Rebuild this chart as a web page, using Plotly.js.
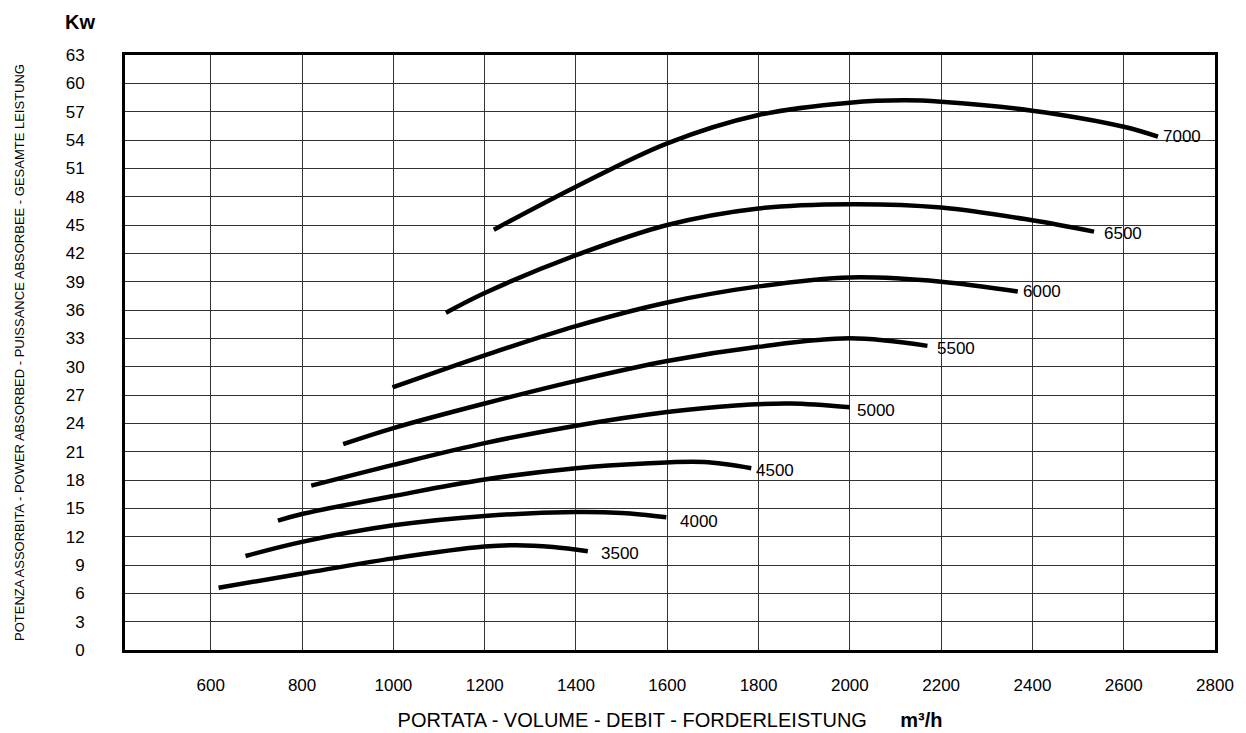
<!DOCTYPE html>
<html>
<head>
<meta charset="utf-8">
<script src="https://cdn.plot.ly/plotly-3.0.1.min.js"></script>
<style>html,body{margin:0;padding:0;background:#fff;}#chart{width:1246px;height:733px;}</style>
</head>
<body>
<div id="chart"></div>
<script>
// Series: flow (m3/h) vs absorbed power (kW), labelled by speed (rpm)
const speeds = ["3500", "4000", "4500", "5000", "5500", "6000", "6500", "7000"];

const x3500 = [617, 800, 1000, 1200, 1270, 1350, 1426];
const y3500 = [6.6, 8.1, 9.7, 10.95, 11.1, 10.9, 10.45];

const x4000 = [676, 800, 1000, 1200, 1400, 1500, 1598];
const y4000 = [9.95, 11.45, 13.2, 14.2, 14.6, 14.5, 14.05];

const x4500 = [747, 800, 1000, 1200, 1400, 1550, 1680, 1784];
const y4500 = [13.7, 14.4, 16.3, 18.05, 19.25, 19.75, 19.9, 19.25];

const x5000 = [820, 1000, 1200, 1400, 1600, 1750, 1870, 2000];
const y5000 = [17.4, 19.6, 21.9, 23.75, 25.2, 25.9, 26.1, 25.7];

const x5500 = [890, 1000, 1200, 1400, 1600, 1800, 2000, 2170];
const y5500 = [21.8, 23.5, 26.1, 28.5, 30.6, 32.1, 33.0, 32.2];

const x6000 = [998, 1200, 1400, 1600, 1800, 2000, 2200, 2368];
const y6000 = [27.8, 31.2, 34.3, 36.8, 38.5, 39.45, 39.0, 37.95];

const x6500 = [1115, 1200, 1400, 1600, 1800, 2000, 2200, 2400, 2535];
const y6500 = [35.7, 37.8, 41.8, 45.0, 46.75, 47.2, 46.85, 45.5, 44.3];

const x7000 = [1220, 1400, 1600, 1800, 2000, 2120, 2200, 2400, 2600, 2675];
const y7000 = [44.5, 49.05, 53.65, 56.65, 57.95, 58.2, 58.05, 57.1, 55.4, 54.35];

const xTicks = [600, 800, 1000, 1200, 1400, 1600, 1800, 2000, 2200, 2400, 2600, 2800];
const yTicks = [0, 3, 6, 9, 12, 15, 18, 21, 24, 27, 30, 33, 36, 39, 42, 45, 48, 51, 54, 57, 60, 63];

const xs = [x3500, x4000, x4500, x5000, x5500, x6000, x6500, x7000];
const ys = [y3500, y4000, y4500, y5000, y5500, y6000, y6500, y7000];
const labelShift = [11, 12, 3, 5, 8, 3, 8, 3];
const labelYShift = [-2, -4, -2, -3, -3, 0, -2, 0];

const FONT = 'Liberation Sans, Arial, sans-serif';

const traces = speeds.map((s, i) => ({
  x: xs[i], y: ys[i], type: 'scatter', mode: 'lines', name: s,
  line: {color: '#000', width: 4.5, shape: 'spline', smoothing: 1},
  hoverinfo: 'x+y+name'
}));

const annotations = speeds.map((s, i) => ({
  x: xs[i][xs[i].length - 1], y: ys[i][ys[i].length - 1],
  xref: 'x', yref: 'y', text: s, showarrow: false,
  xanchor: 'left', yanchor: 'middle', xshift: labelShift[i], yshift: labelYShift[i],
  font: {family: FONT, size: 17, color: '#000'}
}));

annotations.push({
  xref: 'paper', yref: 'paper', x: -0.041, y: 1.0, yshift: 33,
  xanchor: 'center', yanchor: 'middle', showarrow: false,
  text: '<b>Kw</b>', font: {family: FONT, size: 20, color: '#000'}
});

const layout = {
  width: 1246, height: 733,
  margin: {l: 125, r: 31, t: 55, b: 83},
  paper_bgcolor: '#fff', plot_bgcolor: '#fff',
  showlegend: false,
  xaxis: {
    range: [412, 2800], tickvals: xTicks, ticktext: xTicks.map(String),
    showgrid: true, gridcolor: '#333', gridwidth: 1, zeroline: false,
    showline: true, mirror: true, linecolor: '#000', linewidth: 3,
    ticks: '', ticklabelstandoff: 18,
    tickfont: {family: FONT, size: 17, color: '#000'},
    title: {text: 'PORTATA - VOLUME - DEBIT - FORDERLEISTUNG      <b>m³/h</b>', standoff: 19,
      font: {family: FONT, size: 20, color: '#000'}}
  },
  yaxis: {
    range: [0, 63], tickvals: yTicks, ticktext: yTicks.map(String),
    showgrid: true, gridcolor: '#333', gridwidth: 1, zeroline: false,
    showline: true, mirror: true, linecolor: '#000', linewidth: 3,
    ticks: '', ticklabelstandoff: 34,
    tickfont: {family: FONT, size: 17, color: '#000'},
    title: {text: 'POTENZA ASSORBITA - POWER ABSORBED - PUISSANCE ABSORBEE - GESAMTE LEISTUNG', standoff: 39,
      font: {family: FONT, size: 13, color: '#000'}}
  },
  annotations: annotations
};

Plotly.newPlot('chart', traces, layout, {displayModeBar: false, staticPlot: true});
</script>
</body>
</html>
